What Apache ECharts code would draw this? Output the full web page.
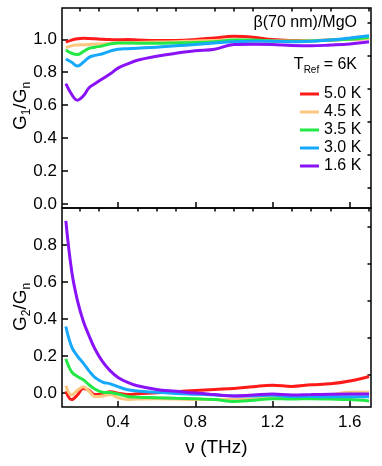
<!DOCTYPE html>
<html>
<head>
<meta charset="utf-8">
<script src="https://cdn.jsdelivr.net/npm/echarts@6/dist/echarts.min.js"></script>
<style>
  html, body { margin: 0; padding: 0; background: #fff; }
  #chart { width: 382px; height: 466px; }
</style>
</head>
<body>
<div id="chart"></div>
<script>
// frequency (THz) samples, shared by all curves
const freq = [0.13, 0.16, 0.19, 0.22, 0.25, 0.28, 0.32, 0.36, 0.40, 0.45, 0.5, 0.6, 0.7, 0.8, 0.9, 1.0, 1.1, 1.2, 1.3, 1.4, 1.5, 1.6, 1.7];
const temps = ['5.0 K', '4.5 K', '3.5 K', '3.0 K', '1.6 K'];
const colors = ['#ff1a1a', '#fdc77f', '#22e845', '#16a8fb', '#8a12f7'];

// G1/Gn (top panel)
const g1_50 = [0.982, 0.995, 1.003, 1.006, 1.005, 1.003, 1.0, 0.998, 0.997, 0.998, 0.996, 0.993, 0.993, 0.998, 1.008, 1.018, 1.012, 0.998, 0.993, 0.992, 0.995, 1.0, 1.005];
const g1_45 = [0.95, 0.96, 0.965, 0.967, 0.968, 0.97, 0.972, 0.975, 0.978, 0.979, 0.98, 0.983, 0.985, 0.99, 0.993, 0.995, 0.993, 0.99, 0.99, 0.993, 0.995, 1.0, 1.005];
const g1_35 = [0.935, 0.915, 0.907, 0.925, 0.945, 0.952, 0.96, 0.972, 0.978, 0.978, 0.976, 0.976, 0.978, 0.98, 0.985, 0.995, 0.995, 0.99, 0.988, 0.99, 0.995, 1.0, 1.012];
const g1_30 = [0.88, 0.86, 0.838, 0.86, 0.89, 0.902, 0.912, 0.928, 0.94, 0.943, 0.946, 0.952, 0.96, 0.968, 0.977, 0.985, 0.988, 0.988, 0.985, 0.988, 0.995, 1.008, 1.022];
const g1_16 = [0.73, 0.665, 0.63, 0.655, 0.705, 0.73, 0.76, 0.79, 0.825, 0.85, 0.873, 0.897, 0.915, 0.93, 0.94, 0.968, 0.97, 0.968, 0.962, 0.96, 0.965, 0.972, 0.985];

// G2/Gn (bottom panel)
const g2_50 = [0.01, -0.035, -0.01, 0.025, 0.015, -0.008, -0.003, 0.008, 0.0, -0.008, -0.004, 0.002, 0.008, 0.014, 0.02, 0.025, 0.035, 0.043, 0.036, 0.045, 0.05, 0.065, 0.09];
const g2_45 = [0.04, -0.01, 0.015, 0.035, 0.01, -0.018, -0.015, -0.008, -0.025, -0.035, -0.032, -0.03, -0.032, -0.035, -0.035, -0.035, -0.03, -0.025, -0.02, -0.015, -0.008, 0.005, 0.005];
const g2_35 = [0.185, 0.115, 0.09, 0.072, 0.045, 0.022, 0.005, 0.003, -0.005, -0.018, -0.022, -0.025, -0.028, -0.03, -0.035, -0.045, -0.038, -0.03, -0.032, -0.03, -0.032, -0.035, -0.042];
const g2_30 = [0.36, 0.25, 0.2, 0.162, 0.12, 0.085, 0.06, 0.05, 0.035, 0.018, 0.012, 0.004, -0.002, -0.006, -0.01, -0.015, -0.015, -0.012, -0.018, -0.018, -0.02, -0.02, -0.02];
const g2_16 = [0.93, 0.66, 0.5, 0.39, 0.31, 0.24, 0.17, 0.12, 0.085, 0.058, 0.04, 0.02, 0.01, 0.0, -0.008, -0.015, -0.01, -0.005, -0.01, -0.008, -0.006, -0.005, -0.005];

const xMajor = [0.4, 0.8, 1.2, 1.6];
const xMinor = [0.2, 0.3, 0.5, 0.6, 0.7, 0.9, 1.0, 1.1, 1.3, 1.4, 1.5, 1.7];
const y1Major = [0, 0.2, 0.4, 0.6, 0.8, 1.0];
const y1Minor = [0.1, 0.3, 0.5, 0.7, 0.9, 1.1];
const y2Major = [0, 0.2, 0.4, 0.6, 0.8];
const y2Minor = [0.1, 0.3, 0.5, 0.7, 0.9];

const font = 'Liberation Sans, Arial, sans-serif';
const pair = (ys) => freq.map((f, i) => [f, ys[i]]);

function axis(gridIndex, min, max, ticks, len, labels, margin) {
    return {
        type: 'value', gridIndex: gridIndex, min: min, max: max,
        splitLine: { show: false },
        axisLine: { show: false, onZero: false },
        axisTick: { show: true, inside: true, length: len, customValues: ticks,
                    lineStyle: { color: '#000', width: 1.5 } },
        axisLabel: labels ? { show: true, customValues: labels, color: '#000', fontSize: 17,
                              fontFamily: font, margin: margin,
                              formatter: (v) => v.toFixed(1) } : { show: false }
    };
}

const g1 = [g1_50, g1_45, g1_35, g1_30, g1_16];
const g2 = [g2_50, g2_45, g2_35, g2_30, g2_16];
const series = [];
temps.forEach((t, i) => {
    series.push({ name: t, type: 'line', xAxisIndex: 0, yAxisIndex: 0, data: pair(g1[i]),
        showSymbol: false, smooth: 0.4, color: colors[i], lineStyle: { width: 3 } });
});
temps.forEach((t, i) => {
    series.push({ name: t, type: 'line', xAxisIndex: 2, yAxisIndex: 2, data: pair(g2[i]),
        showSymbol: false, smooth: 0.4, color: colors[i], lineStyle: { width: 3 } });
});

const rich = {
    a: { fontSize: 19, fontFamily: font, color: '#000', lineHeight: 24 },
    s: { fontSize: 12, fontFamily: font, color: '#000', lineHeight: 12, verticalAlign: 'bottom' },
    b: { fontSize: 16, fontFamily: font, color: '#000', lineHeight: 20 },
    t: { fontSize: 10, fontFamily: font, color: '#000', lineHeight: 10, verticalAlign: 'bottom' }
};

const chart = echarts.init(document.getElementById('chart'));
chart.setOption({
    animation: false,
    backgroundColor: '#fff',
    grid: [
        { left: 62, right: 11, top: 8, height: 200, show: true, borderColor: '#000', borderWidth: 1.5 },
        { left: 62, right: 11, top: 208, bottom: 59, show: true, borderColor: '#000', borderWidth: 1.5 }
    ],
    xAxis: [
        axis(0, 0.11, 1.71, xMajor, 6, null),
        axis(0, 0.11, 1.71, xMinor, 3.5, null),
        axis(1, 0.11, 1.71, xMajor, 6, xMajor, 7),
        axis(1, 0.11, 1.71, xMinor, 3.5, null)
    ],
    yAxis: [
        axis(0, -0.025, 1.19, y1Major, 6, y1Major, 5),
        axis(0, -0.025, 1.19, y1Minor, 3.5, null),
        axis(1, -0.075, 1.0, y2Major, 6, y2Major, 5),
        axis(1, -0.075, 1.0, y2Minor, 3.5, null)
    ],
    legend: {
        orient: 'vertical', left: 295, top: 81,
        icon: 'rect', itemWidth: 19, itemHeight: 3, itemGap: 2,
        textStyle: { fontSize: 16, fontFamily: font, color: '#000', lineHeight: 16 },
        data: temps
    },
    graphic: [
        { type: 'text', x: 21, y: 106, rotation: Math.PI / 2,
          style: { text: '{a|G}{s|1}{a|/G}{s|n}', rich: rich, align: 'center', verticalAlign: 'middle' } },
        { type: 'text', x: 21, y: 307, rotation: Math.PI / 2,
          style: { text: '{a|G}{s|2}{a|/G}{s|n}', rich: rich, align: 'center', verticalAlign: 'middle' } },
        { type: 'text', x: 216.5, y: 448,
          style: { text: 'ν (THz)', fontSize: 19, fontFamily: font, fill: '#000', align: 'center', verticalAlign: 'middle' } },
        { type: 'text', x: 357, y: 23,
          style: { text: 'β(70 nm)/MgO', fontSize: 16, fontFamily: font, fill: '#000', align: 'right', verticalAlign: 'middle' } },
        { type: 'text', x: 357, y: 65,
          style: { text: '{b|T}{t|Ref}{b| = 6K}', rich: rich, align: 'right', verticalAlign: 'middle' } }
    ],
    series: series
});
</script>
</body>
</html>
